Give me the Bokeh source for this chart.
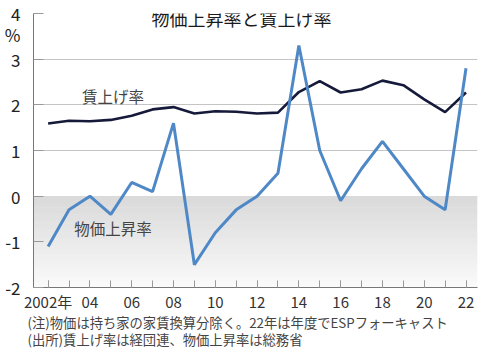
import numpy as np
from bokeh.plotting import figure
from bokeh.models import Range1d, SingleIntervalTicker, FixedTicker, Label, Title
from bokeh.embed import file_html
from bokeh.resources import INLINE

years = list(range(2002, 2023))
cpi = [-1.1, -0.3, 0.0, -0.4, 0.3, 0.1, 1.6, -1.5, -0.8, -0.3, 0.0, 0.5,
       3.3, 1.0, -0.1, 0.6, 1.2, 0.6, 0.0, -0.3, 2.8]
wage = [1.59, 1.65, 1.64, 1.67, 1.76, 1.90, 1.95, 1.81, 1.86, 1.85, 1.81, 1.83,
        2.28, 2.52, 2.27, 2.34, 2.53, 2.43, 2.12, 1.84, 2.27]
tick_years = list(range(2002, 2023, 2))
tick_labels = ["2002年", "04", "06", "08", "10", "12", "14", "16", "18", "20", "22"]
y_ticks = [-2, -1, 0, 1, 2, 3, 4]
y_labels = ["-2", "-1", "0", "1", "2", "3", "4"]
unit_label = "%"
unit_pos = 3.54

title_text = "物価上昇率と賃上げ率"
wage_label = "賃上げ率"
cpi_label = "物価上昇率"
note1 = "(注)物価は持ち家の家賃換算分除く。22年は年度でESPフォーキャスト"
note2 = "(出所)賃上げ率は経団連、物価上昇率は総務省"

FONT = "'Liberation Sans Narrow', 'Noto Sans CJK JP', sans-serif"
JP = "'Noto Sans CJK JP', sans-serif"

x0, x1 = 2001.3, 2022.55
y0, y1 = -2, 4

p = figure(width=484, height=353, output_backend="svg", toolbar_location=None,
           x_range=Range1d(x0, x1), y_range=Range1d(y0, y1),
           min_border_left=33, min_border_right=7, min_border_top=13,
           min_border_bottom=66)
p.outline_line_color = None
p.background_fill_color = "white"

# gradient band below zero
n = 40
edges = np.linspace(0, y0, n + 1)
shades = np.linspace(0xda, 0xfa, n).astype(int)
cols = ["#%02x%02x%02x" % (s, s, s) for s in shades]
p.quad(left=x0, right=x1, top=edges[:-1] + 0.005, bottom=edges[1:] - 0.005,
       fill_color=cols, line_color=None)

# grid
p.xgrid.grid_line_color = None
p.ygrid.ticker = FixedTicker(ticks=y_ticks)
p.ygrid.grid_line_color = "#c4c4c4"
p.ygrid.grid_line_width = 1
p.ygrid.level = "underlay"

p.line(years, wage, line_color="#161a3a", line_width=2.6)
p.line(years, cpi, line_color="#4f88c6", line_width=3)

# axes
xa = p.xaxis[0]
xa.ticker = SingleIntervalTicker(interval=2, num_minor_ticks=2)
xa.major_label_overrides = {y: l for y, l in zip(tick_years, tick_labels)}
xa.major_tick_in = 7
xa.major_tick_out = 0
xa.minor_tick_in = 7
xa.minor_tick_out = 0
xa.axis_line_color = "#777777"
xa.major_tick_line_color = "#999999"
xa.minor_tick_line_color = "#999999"
xa.major_label_text_font = FONT
xa.major_label_text_font_size = "15px"
xa.major_label_text_color = "#333333"
xa.major_label_standoff = 3

ya = p.yaxis[0]
ya.ticker = FixedTicker(ticks=y_ticks + [unit_pos], minor_ticks=y_ticks)
overrides = {t: l for t, l in zip(y_ticks, y_labels)}
overrides[unit_pos] = unit_label
ya.major_label_overrides = overrides
ya.major_tick_line_color = None
ya.minor_tick_in = 10
ya.minor_tick_out = 0
ya.minor_tick_line_color = "#999999"
ya.axis_line_color = "#777777"
ya.major_label_text_font = FONT
ya.major_label_text_font_size = "17px"
ya.major_label_text_color = "#222222"
ya.major_label_standoff = 7

p.add_layout(Label(x=2011.26, y=3.91, text=title_text, text_align="center",
                   text_baseline="middle", text_font=JP,
                   text_font_size="18px", text_font_style="normal",
                   text_color="#1a1a1a"))
p.add_layout(Label(x=2005.1, y=2.2, text=wage_label, text_align="center",
                   text_baseline="middle", text_font=JP,
                   text_font_size="15.5px", text_color="#444444"))
p.add_layout(Label(x=2005.1, y=-0.7, text=cpi_label, text_align="center",
                   text_baseline="middle", text_font=JP,
                   text_font_size="15.5px", text_color="#444444"))

t1 = Title(text=note1, align="left", offset=-6, text_font=JP,
           text_font_size="13.3px", text_font_style="normal",
           text_color="#444444", standoff=-7)
t2 = Title(text=note2, align="left", offset=-6, text_font=JP,
           text_font_size="13.3px", text_font_style="normal",
           text_color="#444444", standoff=-2)
p.add_layout(t1, "below")
p.add_layout(t2, "below")

open("out.html", "w").write(file_html(p, INLINE))
